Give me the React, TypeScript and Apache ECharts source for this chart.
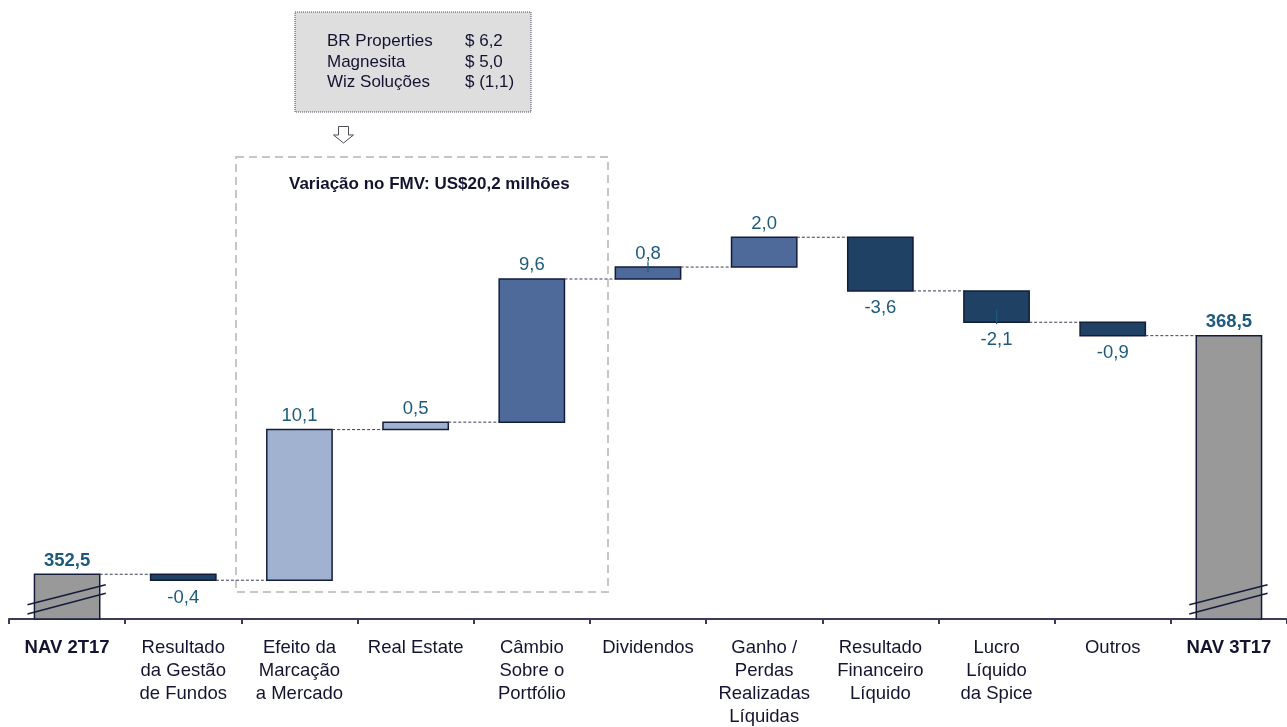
import React, { useEffect, useRef } from "react";
import * as echarts from "echarts";

const categories = [
  "NAV 2T17",
  "Resultado\nda Gestão\nde Fundos",
  "Efeito da\nMarcação\na Mercado",
  "Real Estate",
  "Câmbio\nSobre o\nPortfólio",
  "Dividendos",
  "Ganho /\nPerdas\nRealizadas\nLíquidas",
  "Resultado\nFinanceiro\nLíquido",
  "Lucro\nLíquido\nda Spice",
  "Outros",
  "NAV 3T17",
];
const values = [352.5, -0.4, 10.1, 0.5, 9.6, 0.8, 2.0, -3.6, -2.1, -0.9, 368.5];
const kinds = ["total", "neg", "fmv", "fmv", "pos", "pos", "pos", "neg", "neg", "neg", "total"];
const valueLabels = ["352,5", "-0,4", "10,1", "0,5", "9,6", "0,8", "2,0", "-3,6", "-2,1", "-0,9", "368,5"];
const stubBars = ["Dividendos", "Lucro\nLíquido\nda Spice"];
const fmvCompanies = ["BR Properties", "Magnesita", "Wiz Soluções"];
const fmvAmounts = ["$ 6,2", "$ 5,0", "$ (1,1)"];
const fmvTitle = "Variação no FMV: US$20,2 milhões";
const yMin = 349.5;
const yMax = 385;

const FONT = "'Liberation Sans', Arial, Helvetica, sans-serif";
const kindColors: Record<string, string> = {
  total: "#999999",
  neg: "#1f4163",
  fmv: "#a0b2cf",
  pos: "#4d6a9a",
};
const BORDER = "#141c3c";
const LABEL = "#1d5a7c";
const TEXT = "#141432";

function buildRows() {
  const rows: any[] = [];
  let running = 0;
  values.forEach((v, i) => {
    let low: number, high: number, end: number;
    if (kinds[i] === "total") {
      low = yMin;
      high = v;
      end = v;
    } else {
      const start = running;
      end = running + v;
      low = Math.min(start, end);
      high = Math.max(start, end);
    }
    running = end;
    rows.push([i, low, high, end, v]);
  });
  return rows;
}

export default function App() {
  const ref = useRef<HTMLDivElement>(null);
  useEffect(() => {
    if (!ref.current) return;
    const chart = echarts.init(ref.current, null, { renderer: "svg" });
    const rows = buildRows();
    const n = categories.length;
    chart.setOption({
      animation: false,
      grid: { left: 9, width: 1287, top: 89.6, height: 530.4, containLabel: false },
      xAxis: {
        type: "category",
        data: categories,
        axisLine: { onZero: false, lineStyle: { color: "#3c3c58", width: 2 } },
        axisTick: { show: true, length: 5, lineStyle: { color: "#3c3c58", width: 2 } },
        axisLabel: {
          interval: 0,
          color: TEXT,
          fontSize: 18.5,
          lineHeight: 23,
          margin: 16,
          fontFamily: FONT,
          formatter: (v: string) => (v.startsWith("NAV") ? `{b|${v}}` : v),
          rich: {
            b: { fontWeight: "bold", fontSize: 18.5, lineHeight: 23, color: TEXT, fontFamily: FONT },
          },
        },
      },
      yAxis: { type: "value", min: yMin, max: yMax, show: false },
      series: [
        {
          type: "custom",
          data: rows,
          encode: { x: 0, y: [1, 2] },
          renderItem: (params: any, api: any) => {
            const i = api.value(0);
            const low = api.value(1);
            const high = api.value(2);
            const end = api.value(3);
            const v = api.value(4);
            const kind = kinds[i];
            const band = api.size([1, 0])[0];
            const bw = band * 0.562;
            const pLow = api.coord([i, low]);
            const pHigh = api.coord([i, high]);
            const cx = pLow[0];
            const children: any[] = [];
            children.push({
              type: "rect",
              shape: { x: cx - bw / 2, y: pHigh[1], width: bw, height: Math.max(pLow[1] - pHigh[1], 1) },
              style: { fill: kindColors[kind], stroke: BORDER, lineWidth: 1.5 },
            });
            if (kind === "total") {
              const base = pLow[1];
              const l = cx - bw / 2 - 7;
              const r = cx + bw / 2 + 6;
              children.push({
                type: "line",
                shape: { x1: l, y1: base - 14.3, x2: r, y2: base - 34.3 },
                style: { stroke: BORDER, lineWidth: 1.5 },
              });
              children.push({
                type: "line",
                shape: { x1: l, y1: base - 5, x2: r, y2: base - 25.7 },
                style: { stroke: BORDER, lineWidth: 1.5 },
              });
            }
            if (stubBars.indexOf(categories[i]) >= 0) {
              const y1 = v >= 0 ? pHigh[1] - 5 : pLow[1] - 13;
              const y2 = v >= 0 ? pHigh[1] + 5 : pLow[1] + 2;
              children.push({
                type: "line",
                shape: { x1: cx, y1, x2: cx, y2 },
                style: { stroke: LABEL, lineWidth: 1.2 },
              });
            }
            const above = kind === "total" || v >= 0;
            children.push({
              type: "text",
              x: cx,
              y: above ? pHigh[1] - 15 : pLow[1] + 16,
              style: {
                text: valueLabels[i],
                fill: LABEL,
                font: `${kind === "total" ? "bold " : ""}18.5px ${FONT}`,
                align: "center",
                verticalAlign: "middle",
              },
            });
            if (i < n - 1) {
              const pe = api.coord([i, end]);
              children.push({
                type: "line",
                shape: { x1: cx + bw / 2, y1: pe[1], x2: cx + band - bw / 2, y2: pe[1] },
                style: { stroke: "#3a3a5a", lineWidth: 1, lineDash: [3, 2] },
              });
            }
            return { type: "group", children };
          },
        },
      ],
      graphic: [
        {
          type: "rect",
          shape: { x: 236, y: 157, width: 372, height: 435 },
          style: { fill: "none", stroke: "#c6c6c6", lineWidth: 2, lineDash: [8, 5] },
          z: 0,
        },
        {
          type: "text",
          x: 289,
          y: 183,
          style: {
            text: fmvTitle,
            fill: TEXT,
            font: `bold 17px ${FONT}`,
            align: "left",
            verticalAlign: "middle",
          },
        },
        {
          type: "rect",
          shape: { x: 295, y: 12, width: 236, height: 100 },
          style: { fill: "#dedede", stroke: "#4a4a5a", lineWidth: 1, lineDash: [1, 1] },
        },
        ...fmvCompanies.map((c, k) => ({
          type: "text",
          x: 327,
          y: 40.5 + k * 20.5,
          style: { text: c, fill: TEXT, font: `17px ${FONT}`, align: "left", verticalAlign: "middle" },
        })),
        ...fmvAmounts.map((a, k) => ({
          type: "text",
          x: 465,
          y: 40.5 + k * 20.5,
          style: { text: a, fill: TEXT, font: `17px ${FONT}`, align: "left", verticalAlign: "middle" },
        })),
        {
          type: "polygon",
          shape: {
            points: [
              [338.5, 126.5],
              [348.5, 126.5],
              [348.5, 135],
              [353.5, 135],
              [343.5, 143],
              [333.5, 135],
              [338.5, 135],
            ],
          },
          style: { fill: "#ffffff", stroke: "#4a4a5a", lineWidth: 1 },
        },
      ],
    });
    return () => chart.dispose();
  }, []);
  return <div ref={ref} style={{ position: "fixed", left: 0, top: 0, width: 1287, height: 727 }} />;
}
